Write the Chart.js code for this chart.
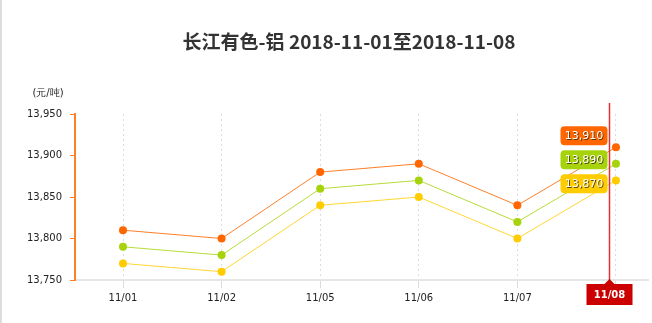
<!DOCTYPE html>
<html>
<head>
<meta charset="utf-8">
<script src="https://cdn.jsdelivr.net/npm/chart.js@4/dist/chart.umd.min.js"></script>
<style>
  html, body { margin: 0; padding: 0; background: #fff; }
  #wrap { width: 652px; height: 323px; }
</style>
</head>
<body>
<div id="wrap"><canvas id="alchart" width="652" height="323"></canvas></div>
<script>
// chart data
var titleText = "长江有色-铝 2018-11-01至2018-11-08";
var unitText = "(元/吨)";
var dates = ["11/01", "11/02", "11/05", "11/06", "11/07", "11/08"];
var highPrice = [13810, 13800, 13880, 13890, 13840, 13910];
var avgPrice = [13790, 13780, 13860, 13870, 13820, 13890];
var lowPrice = [13770, 13760, 13840, 13850, 13800, 13870];
var yTicks = [13750, 13800, 13850, 13900, 13950];

var colors = ["#ff6600", "#a6d30c", "#ffcc00"];
var lineColors = ["#ff7f2a", "#b5dc3a", "#ffd633"];
var activeIndex = dates.length - 1;

function toPoints(arr) {
  return arr.map(function (v, i) { return { x: i, y: v }; });
}

function fmt(v) {
  return v.toString().replace(/\B(?=(\d{3})+(?!\d))/g, ",");
}

function makeSet(label, arr, i) {
  return {
    label: label,
    data: toPoints(arr),
    borderColor: lineColors[i],
    backgroundColor: colors[i],
    pointBackgroundColor: colors[i],
    pointBorderWidth: 0,
    pointRadius: 4,
    borderWidth: 1,
    tension: 0
  };
}

// title, unit, left border, crosshair and value labels
var extras = {
  id: "extras",
  beforeDraw: function (chart) {
    var c = chart.ctx;
    c.save();
    c.strokeStyle = "#dddddd";
    c.lineWidth = 2;
    c.beginPath();
    c.moveTo(1, 0);
    c.lineTo(1, chart.height);
    c.stroke();
    c.restore();
  },
  afterDraw: function (chart) {
    var c = chart.ctx;
    var area = chart.chartArea;
    var xs = chart.scales.x, ys = chart.scales.y;
    c.save();
    c.fillStyle = "#333333";
    c.font = "bold 19px 'Noto Sans CJK SC', sans-serif";
    c.textAlign = "center";
    c.textBaseline = "middle";
    c.fillText(titleText, 349, 42);

    c.font = "10px 'DejaVu Sans', sans-serif";
    c.fillStyle = "#222222";
    c.fillText(unitText, 48, 93);

    // crosshair
    var px = Math.round(xs.getPixelForValue(activeIndex)) - 6.5;
    c.strokeStyle = "#e03030";
    c.lineWidth = 1.5;
    c.beginPath();
    c.moveTo(px, area.top - 11);
    c.lineTo(px, area.bottom);
    c.stroke();

    // category box
    c.fillStyle = "#cc0000";
    c.beginPath();
    c.moveTo(px - 23, area.bottom + 4);
    c.lineTo(px - 5, area.bottom + 4);
    c.lineTo(px, area.bottom - 1);
    c.lineTo(px + 5, area.bottom + 4);
    c.lineTo(px + 23, area.bottom + 4);
    c.lineTo(px + 23, area.bottom + 25);
    c.lineTo(px - 23, area.bottom + 25);
    c.closePath();
    c.fill();
    c.fillStyle = "#ffffff";
    c.font = "bold 10px 'DejaVu Sans', sans-serif";
    c.fillText(dates[activeIndex], px, area.bottom + 15);

    // value labels
    var sets = chart.data.datasets;
    var ysPix = sets.map(function (d) { return ys.getPixelForValue(d.data[activeIndex].y); });
    var mid = ysPix.reduce(function (a, b) { return a + b; }, 0) / ysPix.length - 4;
    var w = 47, h = 19;
    for (var i = 0; i < sets.length; i++) {
      var cy = mid + (i - (sets.length - 1) / 2) * 24;
      var bx = px - 2 - w;
      c.fillStyle = colors[i];
      c.beginPath();
      c.roundRect(bx, cy - h / 2, w, h, 4);
      c.fill();
      c.font = "11px 'DejaVu Sans', sans-serif";
      c.fillStyle = "rgba(60,40,0,0.8)";
      c.fillText(fmt(sets[i].data[activeIndex].y), bx + w / 2 + 1, cy + 1);
      c.fillStyle = "#ffffff";
      c.fillText(fmt(sets[i].data[activeIndex].y), bx + w / 2, cy);
    }
    c.restore();
  }
};

var ctx = document.getElementById("alchart").getContext("2d");

var alChart = new Chart(ctx, {
  type: "line",
  data: {
    datasets: [
      makeSet("最高价", highPrice, 0),
      makeSet("均价", avgPrice, 1),
      makeSet("最低价", lowPrice, 2)
    ]
  },
  options: {
    responsive: false,
    animation: false,
    layout: { padding: { top: 114, left: 0, right: 0, bottom: 0 } },
    plugins: {
      legend: { display: false },
      title: { display: false },
      tooltip: { enabled: false }
    },
    scales: {
      x: {
        type: "linear",
        min: -0.487,
        max: 5.325,
        afterBuildTicks: function (axis) {
          axis.ticks = dates.map(function (d, i) { return { value: i }; });
        },
        afterFit: function (axis) { axis.height = 43; },
        ticks: {
          callback: function (v) { return dates[v]; },
          color: "#222222",
          font: { size: 10, family: "'DejaVu Sans', sans-serif" },
          padding: 4,
          maxRotation: 0
        },
        grid: {
          color: "#dcdcdc",
          tickColor: "#dcdcdc",
          tickLength: 8,
          lineWidth: 1
        },
        border: { color: "#e6e6e6", width: 2, dash: [2, 3] }
      },
      y: {
        min: 13750,
        max: 13950,
        afterBuildTicks: function (axis) {
          axis.ticks = yTicks.map(function (v) { return { value: v }; });
        },
        afterFit: function (axis) { axis.width = 75; },
        ticks: {
          callback: function (v) { return fmt(v); },
          color: "#222222",
          font: { size: 10, family: "'DejaVu Sans', sans-serif" },
          padding: 8
        },
        grid: {
          drawOnChartArea: false,
          tickColor: "#ff7f2a",
          tickLength: 5,
          lineWidth: 1
        },
        border: { color: "#ff7f2a", width: 2 }
      }
    }
  },
  plugins: [extras]
});
</script>
</body>
</html>
